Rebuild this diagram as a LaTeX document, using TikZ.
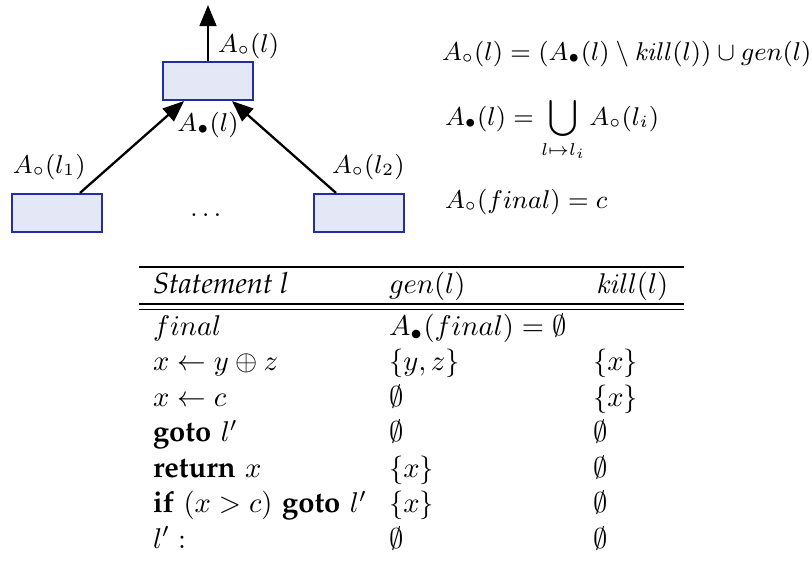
\documentclass[tikz,border=0pt]{standalone}
\usepackage[T1,OT1]{fontenc}
\usepackage{amsmath,amssymb}
\usetikzlibrary{arrows.meta,calc}
\newcommand\palit[1]{{\fontencoding{T1}\fontfamily{ppl}\fontshape{it}\fontsize{10.2}{12}\selectfont #1}}
\newcommand\palbf[1]{{\fontencoding{T1}\fontfamily{ppl}\bfseries\fontsize{10.2}{12}\selectfont #1}}
\definecolor{boxfill}{RGB}{228,231,245}
\definecolor{boxdraw}{RGB}{35,45,165}
\tikzset{
  blk/.style={draw=boxdraw, fill=boxfill, line width=0.75pt, minimum width=31.5pt, minimum height=13.3pt, inner sep=0pt},
  arr/.style={line width=0.8pt, -{Triangle[length=7.4pt,width=5.9pt]}},
  txt/.style={inner sep=0pt, outer sep=0pt, anchor=base west},
  ctxt/.style={inner sep=0pt, outer sep=0pt, anchor=base},
  tcell/.style={inner sep=0pt, outer sep=0pt, anchor=base west, font=\fontsize{9.6}{11.5}\selectfont},
  tabrule/.style={line width=0.4pt}
}
\begin{document}
\begin{tikzpicture}[x=0.35pt,y=-0.35pt, every node/.append style={font=\fontsize{9}{11}\selectfont}]
\useasboundingbox (0,0) rectangle (812,562);
% boxes
\node[blk] (top) at (208,81) {};
\node[blk] (lb) at (57,213) {};
\node[blk] (rb) at (359,213) {};
\coordinate (out) at (208,5);
\draw[arr] (top.north) -- (out);
\draw[arr] ($(lb.north)+(23,0)$) -- ($(top.south)+(-24,0)$);
\draw[arr] ($(rb.north)+(-23,0)$) -- ($(top.south)+(24,0)$);
% diagram labels
\node[txt] (lo) at (218,52) {$A_\circ(l)$};
\node[ctxt] (li) at (208,131) {$A_\bullet(l)$};
\node[txt] (l1) at (13,173) {$A_\circ(l_1)$};
\node[txt] (l2) at (332,173) {$A_\circ(l_2)$};
\node[ctxt] (dots) at (208,216) {$\dots$};
% equations
\node[txt] (e1) at (442,60) {$A_\circ(l) = (A_\bullet(l) \setminus \mathit{kill}(l)) \cup gen(l)$};
\node[txt] (e2) at (445,125) {$\displaystyle A_\bullet(l) = \bigcup_{l\mapsto l_i} A_\circ(l_i)$};
\node[txt] (e3) at (445,208) {$A_\circ(final) = c$};
% table rules
\coordinate (tl) at (139,267); \coordinate (tr) at (684,267);
\draw[tabrule] (tl) -- (tr);
\coordinate (dl1) at (139,304); \coordinate (dr1) at (684,304);
\coordinate (dl2) at (139,309.5); \coordinate (dr2) at (684,309.5);
\draw[tabrule] (dl1) -- (dr1);
\draw[tabrule] (dl2) -- (dr2);
% header
\node[tcell] (h1) at (153,293) {\palit{Statement l}};
\node[tcell] (h2) at (389,293) {$gen(l)$};
\node[tcell] (h3) at (596,293) {$\mathit{kill}(l)$};
% rows
\node[tcell] (r1a) at (153,335) {$final$};
\node[tcell] (r1b) at (389,335) {$A_\bullet(final) = \emptyset$};
\node[tcell] (r2a) at (153,370.5) {$x \leftarrow y \oplus z$};
\node[tcell] (r2b) at (389,370.5) {$\{y,z\}$};
\node[tcell] (r2c) at (593,370.5) {$\{x\}$};
\node[tcell] (r3a) at (153,406) {$x \leftarrow c$};
\node[tcell] (r3b) at (389,406) {$\emptyset$};
\node[tcell] (r3c) at (593,406) {$\{x\}$};
\node[tcell] (r4a) at (153,441.5) {\palbf{goto} $l'$};
\node[tcell] (r4b) at (389,441.5) {$\emptyset$};
\node[tcell] (r4c) at (593,441.5) {$\emptyset$};
\node[tcell] (r5a) at (153,477) {\palbf{return} $x$};
\node[tcell] (r5b) at (389,477) {$\{x\}$};
\node[tcell] (r5c) at (593,477) {$\emptyset$};
\node[tcell] (r6a) at (153,512.5) {\palbf{if} $(x > c)$ \palbf{goto} $l'$};
\node[tcell] (r6b) at (389,512.5) {$\{x\}$};
\node[tcell] (r6c) at (593,512.5) {$\emptyset$};
\node[tcell] (r7a) at (153,548) {$l':$};
\node[tcell] (r7b) at (389,548) {$\emptyset$};
\node[tcell] (r7c) at (593,548) {$\emptyset$};
\end{tikzpicture}
\end{document}
